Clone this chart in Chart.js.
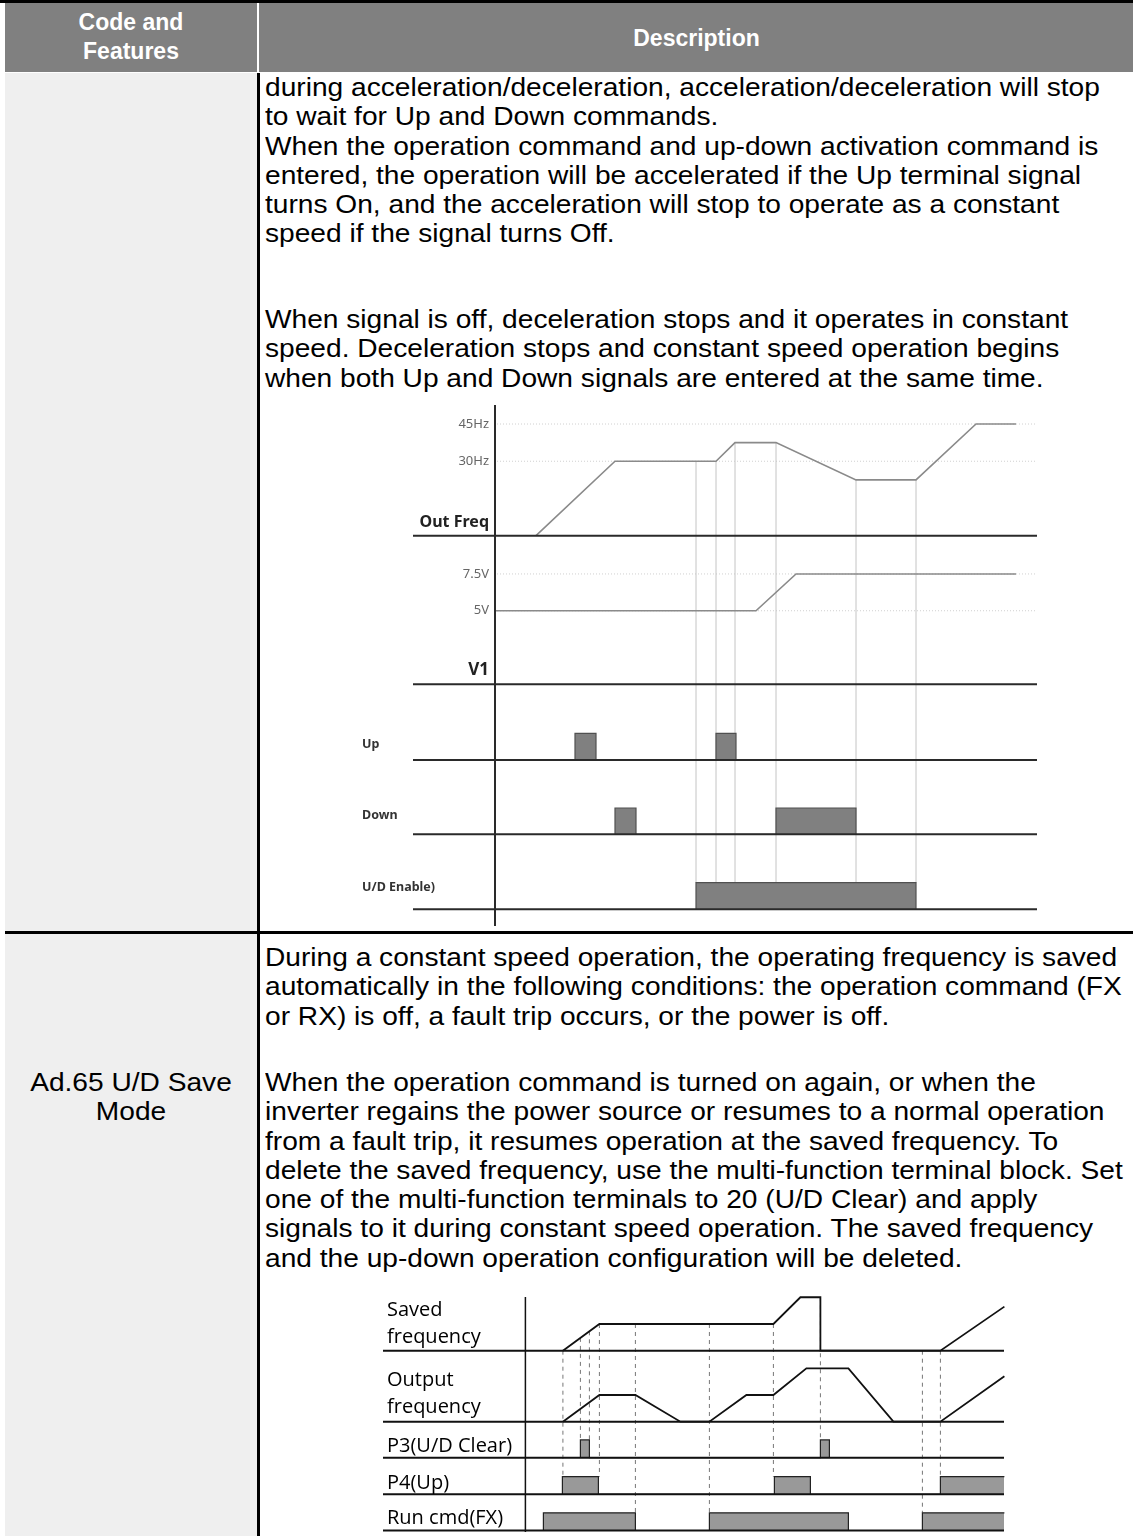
<!DOCTYPE html>
<html>
<head>
<meta charset="utf-8">
<script src="https://cdn.jsdelivr.net/npm/chart.js@4.4.1/dist/chart.umd.min.js"></script>
<style>
  body { margin: 0; background: #fff; }
  #page { position: relative; width: 1133px; height: 1536px; overflow: hidden; font-family: "Liberation Sans", Arial, sans-serif; }
  .box { position: absolute; }
  .txt { position: absolute; left: 265px; font-size: 25px; line-height: 29.3px; white-space: pre; color: #000;
         transform: scaleX(1.125); transform-origin: 0 0; }
  .head { position: absolute; color: #fff; font-weight: bold; font-size: 23px; line-height: 29px; text-align: center; }
  canvas { position: absolute; }
</style>
</head>
<body>
<div id="page">
  <!-- table frame -->
  <div class="box" style="left:0;top:0;width:1133px;height:3px;background:#000"></div>
  <div class="box" style="left:5px;top:3px;width:1128px;height:69px;background:#808080"></div>
  <div class="box" style="left:257px;top:3px;width:2px;height:69px;background:#fff"></div>
  <div class="box" style="left:5px;top:73px;width:252px;height:1463px;background:#efefef"></div>
  <div class="box" style="left:257px;top:73px;width:3px;height:1463px;background:#000"></div>
  <div class="box" style="left:5px;top:931px;width:1128px;height:3px;background:#000"></div>

  <div class="head" style="left:5px;top:8px;width:252px">Code and<br>Features</div>
  <div class="head" style="left:260px;top:24px;width:873px">Description</div>

  <div class="txt" style="top:73px">during acceleration/deceleration, acceleration/deceleration will stop
to wait for Up and Down commands.
When the operation command and up-down activation command is
entered, the operation will be accelerated if the Up terminal signal
turns On, and the acceleration will stop to operate as a constant
speed if the signal turns Off.</div>
  <div class="txt" style="top:305px">When signal is off, deceleration stops and it operates in constant
speed. Deceleration stops and constant speed operation begins
when both Up and Down signals are entered at the same time.</div>

  <div class="txt" style="top:943px">During a constant speed operation, the operating frequency is saved
automatically in the following conditions: the operation command (FX
or RX) is off, a fault trip occurs, or the power is off.</div>
  <div class="txt" style="top:1068px">When the operation command is turned on again, or when the
inverter regains the power source or resumes to a normal operation
from a fault trip, it resumes operation at the saved frequency. To
delete the saved frequency, use the multi-function terminal block. Set
one of the multi-function terminals to 20 (U/D Clear) and apply
signals to it during constant speed operation. The saved frequency
and the up-down operation configuration will be deleted.</div>
  <div class="txt" style="left:5px;width:252px;text-align:center;top:1068px;transform-origin:50% 0">Ad.65 U/D Save
Mode</div>

  <canvas id="updownChart" width="873" height="565" style="left:260px;top:370px"></canvas>
  <canvas id="saveChart" width="873" height="251" style="left:260px;top:1285px"></canvas>
</div>

<script>
// ---- Up/Down diagram (time in arbitrary units, 0 = vertical axis)
const outFreqTime = [4.1, 12.0, 22.1, 24.0, 28.1, 36.1, 42.1, 48.1, 52.1];
const outFreqHz = [0, 30, 30, 37.5, 37.5, 22.5, 22.5, 45, 45];
const v1Time = [0, 26.1, 30.1, 52.1];
const v1Volt = [5, 5, 7.5, 7.5];
const upPulses = [[8.0, 10.1], [22.1, 24.1]];
const downPulses = [[12.0, 14.1], [28.1, 36.1]];
const udEnablePulses = [[20.1, 42.1]];
const guideTimes1 = [20.1, 22.1, 24.0, 28.1, 36.1, 42.1];
const freqTicks = [45, 30];
const freqTickLabels = ['45Hz', '30Hz'];
const v1Ticks = [7.5, 5];
const v1TickLabels = ['7.5V', '5V'];

// ---- U/D save mode diagram
const savedTime = [3.75, 7.4, 24.8, 27.5, 29.5, 29.5, 41.5, 47.9];
const savedFreq = [0, 10, 10, 20, 20, 0, 0, 16.5];
const outputTime = [3.75, 7.4, 11.0, 15.5, 18.4, 22.1, 24.8, 28.1, 32.3, 36.8, 41.5, 47.9];
const outputFreq = [0, 10, 10, 0, 0, 10, 10, 20, 20, 0, 0, 17];
const p3Pulses = [[5.5, 6.4], [29.5, 30.4]];
const p4Pulses = [[3.7, 7.3], [24.9, 28.5], [41.5, 47.9]];
const runPulses = [[1.8, 11.0], [18.4, 32.3], [39.7, 47.9]];
const guideTimes2 = [3.75, 5.5, 6.4, 7.4, 11.0, 18.4, 24.8, 29.5, 39.7, 41.5];
const guideEnds2 = ['p4', 'p3', 'p3', 'p4', 'run', 'run', 'p4', 'p3', 'run', 'p4'];

const toPoints = (xs, ys) => xs.map((x, i) => ({x: x, y: ys[i]}));
const pulsePoints = pulses => {
    const pts = [];
    pulses.forEach(([a, b]) => pts.push({x: a, y: 0}, {x: a, y: 1}, {x: b, y: 1}, {x: b, y: 0}));
    return pts;
};
// value of a piecewise linear trace at time t (0 before it starts)
const valueAt = (ts, vs, t) => {
    if (t < ts[0]) return 0;
    for (let i = 0; i < ts.length - 1; i++) {
        if (t >= ts[i] && t <= ts[i + 1]) {
            if (ts[i + 1] === ts[i]) return vs[i];
            return vs[i] + (vs[i + 1] - vs[i]) * (t - ts[i]) / (ts[i + 1] - ts[i]);
        }
    }
    return vs[vs.length - 1];
};

function line(ctx, x1, y1, x2, y2) {
    ctx.beginPath();
    ctx.moveTo(x1, y1);
    ctx.lineTo(x2, y2);
    ctx.stroke();
}

// draws axis, baselines, reference lines, guide lines and labels of a timing diagram
const timingPlugin = {
    id: 'timing',
    beforeDatasetsDraw(chart, args, o) {
        const ctx = chart.ctx, xs = chart.scales.x, area = chart.chartArea;
        const x0 = xs.getPixelForValue(0);
        ctx.save();
        ctx.lineWidth = 1;
        ctx.strokeStyle = '#d0d0d0';
        ctx.setLineDash([1, 2]);
        (o.refs || []).forEach(r => {
            const y = chart.scales[r.axis].getPixelForValue(r.value);
            line(ctx, x0 + 2, y, area.right, y);
        });
        ctx.strokeStyle = o.guideColor;
        ctx.setLineDash(o.guideDash);
        o.guides.forEach((t, i) => {
            const x = xs.getPixelForValue(t);
            const top = chart.scales[o.topAxis].getPixelForValue(valueAt(o.topTime, o.topValue, t));
            const endAxis = Array.isArray(o.guideEnd) ? o.guideEnd[i] : o.guideEnd;
            const bottom = chart.scales[endAxis].getPixelForValue(1);
            line(ctx, x, top, x, bottom);
        });
        ctx.restore();
    },
    afterDatasetsDraw(chart, args, o) {
        const ctx = chart.ctx, xs = chart.scales.x, area = chart.chartArea;
        const x0 = xs.getPixelForValue(0);
        ctx.save();
        ctx.strokeStyle = o.axisColor;
        ctx.lineWidth = o.baseWidth;
        o.tracks.forEach(id => {
            const y = chart.scales[id].getPixelForValue(0);
            line(ctx, area.left, y, area.right, y);
        });
        ctx.lineWidth = o.axisWidth;
        line(ctx, x0, area.top, x0, area.bottom);
        ctx.textBaseline = 'middle';
        (o.refs || []).forEach(r => {
            ctx.font = o.tickFont;
            ctx.fillStyle = '#666';
            ctx.textAlign = 'right';
            ctx.fillText(r.label, x0 - 6, chart.scales[r.axis].getPixelForValue(r.value));
        });
        o.labels.forEach(l => {
            ctx.font = l.font;
            ctx.fillStyle = l.color || '#000';
            ctx.textAlign = l.align;
            const x = l.align === 'right' ? x0 - 6 : area.left + l.dx;
            ctx.fillText(l.text, x, chart.scales[l.axis].getPixelForValue(0) - l.dy);
        });
        ctx.restore();
    }
};

const track = (weight, stackWeight, min, max) => ({
    type: 'linear', position: 'left', stack: 'tracks', weight: weight,
    stackWeight: stackWeight, min: min, max: max, display: false
});

const waveStyle = (color, width, axis) => ({
    yAxisID: axis, borderColor: color, borderWidth: width, pointRadius: 0, fill: false, clip: false
});
const pulseStyle = (fill, border, axis) => ({
    yAxisID: axis, borderColor: border, borderWidth: 1.2, backgroundColor: fill,
    pointRadius: 0, fill: 'origin', clip: false
});

document.addEventListener('DOMContentLoaded', () => {
    // Up/Down operation diagram
    new Chart(document.getElementById('updownChart').getContext('2d'), {
        type: 'line',
        data: {
            datasets: [
                Object.assign({data: toPoints(outFreqTime, outFreqHz)}, waveStyle('#8a8a8a', 1.6, 'freq')),
                Object.assign({data: toPoints(v1Time, v1Volt)}, waveStyle('#8a8a8a', 1.6, 'v1')),
                Object.assign({data: pulsePoints(upPulses)}, pulseStyle('#808080', '#505050', 'up')),
                Object.assign({data: pulsePoints(downPulses)}, pulseStyle('#808080', '#505050', 'down')),
                Object.assign({data: pulsePoints(udEnablePulses)}, pulseStyle('#808080', '#505050', 'ud'))
            ]
        },
        options: {
            responsive: false,
            animation: false,
            events: [],
            layout: {padding: {left: 153, right: 96, top: 35, bottom: 9}},
            scales: {
                x: {type: 'linear', min: -8.2, max: 54.2, display: false},
                freq: track(5, 130.7, 0, 52.66),
                v1: track(4, 148.6, 0, 10.1),
                up: track(3, 75.7, 0, 2.835),
                down: track(2, 74.3, 0, 2.825),
                ud: track(1, 91.7, -0.628, 2.82)
            },
            plugins: {
                legend: {display: false},
                tooltip: {enabled: false},
                timing: {
                    tracks: ['freq', 'v1', 'up', 'down', 'ud'],
                    axisColor: '#2a2a2a', baseWidth: 2, axisWidth: 2,
                    tickFont: '13px "Noto Sans"',
                    refs: freqTicks.map((v, i) => ({axis: 'freq', value: v, label: freqTickLabels[i]}))
                        .concat(v1Ticks.map((v, i) => ({axis: 'v1', value: v, label: v1TickLabels[i]}))),
                    guides: guideTimes1, guideEnd: 'ud', guideColor: '#c4c4c4', guideDash: [],
                    topAxis: 'freq', topTime: outFreqTime, topValue: outFreqHz,
                    labels: [
                        {text: 'Out Freq', axis: 'freq', align: 'right', dy: 13, font: 'bold 16px "Noto Sans"', color: '#222'},
                        {text: 'V1', axis: 'v1', align: 'right', dy: 14, font: 'bold 17px "Noto Sans"', color: '#222'},
                        {text: 'Up', axis: 'up', align: 'left', dx: -51, dy: 16, font: 'bold 12.5px "Noto Sans"', color: '#333'},
                        {text: 'Down', axis: 'down', align: 'left', dx: -51, dy: 19, font: 'bold 12.5px "Noto Sans"', color: '#333'},
                        {text: 'U/D Enable)', axis: 'ud', align: 'left', dx: -51, dy: 22, font: 'bold 12.5px "Noto Sans"', color: '#333'}
                    ]
                }
            }
        },
        plugins: [timingPlugin]
    });

    // U/D save mode diagram
    new Chart(document.getElementById('saveChart').getContext('2d'), {
        type: 'line',
        data: {
            datasets: [
                Object.assign({data: toPoints(savedTime, savedFreq)}, waveStyle('#111', 1.8, 'saved')),
                Object.assign({data: toPoints(outputTime, outputFreq)}, waveStyle('#111', 1.8, 'output')),
                Object.assign({data: pulsePoints(p3Pulses)}, pulseStyle('#999', '#222', 'p3')),
                Object.assign({data: pulsePoints(p4Pulses)}, pulseStyle('#999', '#222', 'p4')),
                Object.assign({data: pulsePoints(runPulses)}, pulseStyle('#999', '#222', 'run'))
            ]
        },
        options: {
            responsive: false,
            animation: false,
            events: [],
            layout: {padding: {left: 123, right: 129, top: 12, bottom: 4}},
            scales: {
                x: {type: 'linear', min: -14.24, max: 47.86, display: false},
                saved: track(5, 53.7, 0, 20.1),
                output: track(4, 71, 0, 26.6),
                p3: track(3, 36, 0, 2.03),
                p4: track(2, 36.6, 0, 2.08),
                run: track(1, 37.7, -0.085, 2.045)
            },
            plugins: {
                legend: {display: false},
                tooltip: {enabled: false},
                timing: {
                    tracks: ['saved', 'output', 'p3', 'p4', 'run'],
                    axisColor: '#111', baseWidth: 2, axisWidth: 1.5,
                    guides: guideTimes2, guideEnd: guideEnds2, guideColor: '#777', guideDash: [4, 4],
                    topAxis: 'saved', topTime: savedTime, topValue: savedFreq,
                    labels: [
                        {text: 'Saved', axis: 'saved', align: 'left', dx: 4, dy: 40, font: '20px "Open Sans"'},
                        {text: 'frequency', axis: 'saved', align: 'left', dx: 4, dy: 13, font: '20px "Open Sans"'},
                        {text: 'Output', axis: 'output', align: 'left', dx: 4, dy: 41, font: '20px "Open Sans"'},
                        {text: 'frequency', axis: 'output', align: 'left', dx: 4, dy: 14, font: '20px "Open Sans"'},
                        {text: 'P3(U/D Clear)', axis: 'p3', align: 'left', dx: 4, dy: 11, font: '20px "Open Sans"'},
                        {text: 'P4(Up)', axis: 'p4', align: 'left', dx: 4, dy: 11, font: '20px "Open Sans"'},
                        {text: 'Run cmd(FX)', axis: 'run', align: 'left', dx: 4, dy: 12, font: '20px "Open Sans"'}
                    ]
                }
            }
        },
        plugins: [timingPlugin]
    });
});
</script>
</body>
</html>
